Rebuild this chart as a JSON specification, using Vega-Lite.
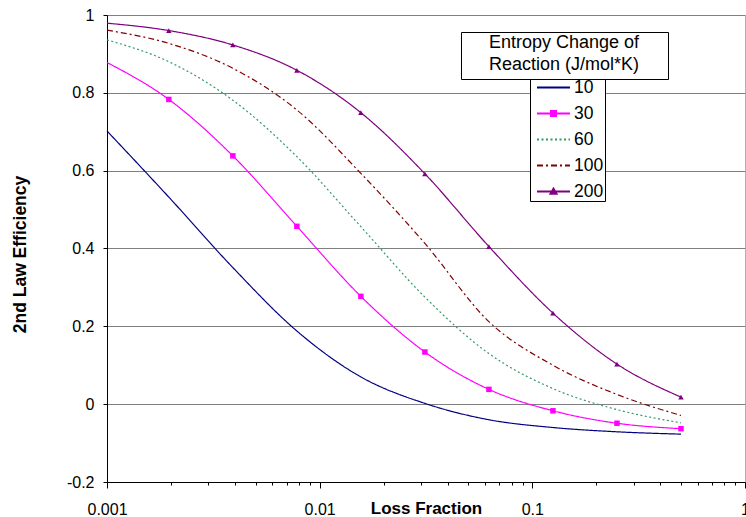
{
  "$schema": "https://vega.github.io/schema/vega-lite/v6.json",
  "width": 638,
  "height": 467,
  "autosize": {"type": "none"},
  "padding": {"left": 107, "top": 15, "right": 1, "bottom": 35},
  "background": "white",
  "config": {
    "font": "Liberation Sans",
    "view": {"stroke": "#b0b0b0", "strokeWidth": 1}
  },
  "data": {
    "values": [
      {"s": "10", "x": 0.001, "y": 0.702},
      {"s": "10", "x": 0.001953125, "y": 0.532},
      {"s": "10", "x": 0.00390625, "y": 0.351},
      {"s": "10", "x": 0.0078125, "y": 0.188},
      {"s": "10", "x": 0.015625, "y": 0.07},
      {"s": "10", "x": 0.03125, "y": 0.002},
      {"s": "10", "x": 0.0625, "y": -0.04},
      {"s": "10", "x": 0.125, "y": -0.06},
      {"s": "10", "x": 0.25, "y": -0.071},
      {"s": "10", "x": 0.5, "y": -0.077},
      {"s": "30", "x": 0.001, "y": 0.878},
      {"s": "30", "x": 0.001953125, "y": 0.783},
      {"s": "30", "x": 0.00390625, "y": 0.638},
      {"s": "30", "x": 0.0078125, "y": 0.457},
      {"s": "30", "x": 0.015625, "y": 0.277},
      {"s": "30", "x": 0.03125, "y": 0.134},
      {"s": "30", "x": 0.0625, "y": 0.038},
      {"s": "30", "x": 0.125, "y": -0.017},
      {"s": "30", "x": 0.25, "y": -0.049},
      {"s": "30", "x": 0.5, "y": -0.063},
      {"s": "60", "x": 0.001, "y": 0.936},
      {"s": "60", "x": 0.001953125, "y": 0.88},
      {"s": "60", "x": 0.00390625, "y": 0.781},
      {"s": "60", "x": 0.0078125, "y": 0.636},
      {"s": "60", "x": 0.015625, "y": 0.456},
      {"s": "60", "x": 0.03125, "y": 0.275},
      {"s": "60", "x": 0.0625, "y": 0.13},
      {"s": "60", "x": 0.125, "y": 0.04},
      {"s": "60", "x": 0.25, "y": -0.014},
      {"s": "60", "x": 0.5, "y": -0.048},
      {"s": "100", "x": 0.001, "y": 0.961},
      {"s": "100", "x": 0.001953125, "y": 0.927},
      {"s": "100", "x": 0.00390625, "y": 0.863},
      {"s": "100", "x": 0.0078125, "y": 0.756},
      {"s": "100", "x": 0.015625, "y": 0.593},
      {"s": "100", "x": 0.03125, "y": 0.413},
      {"s": "100", "x": 0.0625, "y": 0.212},
      {"s": "100", "x": 0.125, "y": 0.1},
      {"s": "100", "x": 0.25, "y": 0.025},
      {"s": "100", "x": 0.5, "y": -0.029},
      {"s": "200", "x": 0.001, "y": 0.979},
      {"s": "200", "x": 0.001953125, "y": 0.96},
      {"s": "200", "x": 0.00390625, "y": 0.923},
      {"s": "200", "x": 0.0078125, "y": 0.858},
      {"s": "200", "x": 0.015625, "y": 0.749},
      {"s": "200", "x": 0.03125, "y": 0.592},
      {"s": "200", "x": 0.0625, "y": 0.405},
      {"s": "200", "x": 0.125, "y": 0.234},
      {"s": "200", "x": 0.25, "y": 0.103},
      {"s": "200", "x": 0.5, "y": 0.018}
    ]
  },
  "encoding": {
    "x": {
      "field": "x",
      "type": "quantitative",
      "scale": {"type": "log", "domain": [0.001, 1]},
      "axis": {
        "values": [0.001, 0.002, 0.003, 0.004, 0.005, 0.006, 0.007, 0.008, 0.009,
                   0.01, 0.02, 0.03, 0.04, 0.05, 0.06, 0.07, 0.08, 0.09,
                   0.1, 0.2, 0.3, 0.4, 0.5, 0.6, 0.7, 0.8, 0.9, 1],
        "labelExpr": "indexof([0.001, 0.01, 0.1, 1], datum.value) >= 0 ? '' + datum.value : ''",
        "labelFontSize": 16,
        "labelColor": "black",
        "labelBaseline": "alphabetic",
        "labelPadding": 26,
        "labelFlush": false,
        "labelOverlap": false,
        "tickColor": "black",
        "tickSize": {"condition": {"test": "indexof([0.001, 0.01, 0.1, 1], datum.value) >= 0", "value": 6}, "value": 3},
        "domainColor": "black",
        "grid": false,
        "title": "Loss Fraction",
        "titleFontSize": 17,
        "titleFontWeight": "bold",
        "titleColor": "black",
        "titleBaseline": "alphabetic",
        "titleY": 31.5
      }
    },
    "y": {
      "field": "y",
      "type": "quantitative",
      "scale": {"domain": [-0.2, 1], "nice": false, "zero": false},
      "axis": {
        "values": [-0.2, 0, 0.2, 0.4, 0.6, 0.8, 1],
        "labelExpr": "'' + round(datum.value * 10) / 10",
        "labelFontSize": 16,
        "labelColor": "black",
        "labelPadding": 9,
        "tickSize": 4,
        "tickColor": "black",
        "domainColor": "black",
        "grid": true,
        "gridColor": "#808080",
        "gridWidth": 1,
        "title": "2nd Law Efficiency",
        "titleFontSize": 17.5,
        "titleFontWeight": "bold",
        "titleColor": "black",
        "titleAngle": -90,
        "titleAlign": "center",
        "titleBaseline": "middle",
        "titleX": -87,
        "titleY": 239
      }
    },
    "color": {
      "field": "s",
      "type": "nominal",
      "scale": {
        "domain": ["10", "30", "60", "100", "200"],
        "range": ["#000080", "#ff00ff", "#339966", "#800000", "#800080"]
      },
      "legend": {
        "orient": "none",
        "legendX": 423,
        "legendY": 54,
        "title": null,
        "labelFontSize": 17.5,
        "labelColor": "black",
        "fillColor": "white",
        "strokeColor": "black",
        "padding": 1,
        "symbolSize": 1089,
        "symbolStrokeWidth": 2,
        "symbolOffset": 5,
        "rowPadding": 0,
        "labelOffset": 3
      }
    }
  },
  "layer": [
    {
      "mark": {"type": "line", "interpolate": "monotone", "strokeWidth": 1.2},
      "encoding": {
        "strokeDash": {
          "field": "s",
          "type": "nominal",
          "scale": {
            "domain": ["10", "30", "60", "100", "200"],
            "range": [[1, 0], [1, 0], [2, 2.5], [6, 3, 2, 3], [1, 0]]
          },
          "legend": null
        }
      }
    },
    {
      "transform": [{"filter": "(datum.s == '30' || datum.s == '200') && datum.x > 0.0015"}],
      "mark": {"type": "point", "filled": true, "opacity": 1, "size": 30},
      "encoding": {
        "shape": {"condition": {"test": "datum.s == '30'", "value": "square"}, "value": "triangle-up"}
      }
    },
    {
      "transform": [{"filter": "datum.x < 0"}],
      "mark": {"type": "point", "filled": true, "opacity": 1},
      "encoding": {
        "shape": {
          "field": "s",
          "type": "nominal",
          "scale": {
            "domain": ["10", "30", "60", "100", "200"],
            "range": [
              "M-1,0H1",
              "M-1,0H1M-0.15,-0.15H0.15V0.15H-0.15Z",
              "M-1,0H1",
              "M-1,0H1",
              "M-1,0H1M0,-0.17L0.18,0.13H-0.18Z"
            ]
          }
        },
        "size": {
          "field": "s",
          "type": "ordinal",
          "scale": {"domain": ["10"], "range": [4, 4]},
          "legend": {
            "orient": "none",
            "legendX": 354,
            "legendY": 17,
            "title": ["Entropy Change of", "Reaction (J/mol*K)"],
            "titleFontSize": 18,
            "titleFontWeight": "normal",
            "titleColor": "black",
            "titleAnchor": "middle",
            "titleAlign": "center",
            "titleLineHeight": 22,
            "titlePadding": 0,
            "labelFontSize": 2,
            "labelColor": "transparent",
            "symbolOpacity": 0,
            "labelOffset": 196,
            "fillColor": "white",
            "strokeColor": "black",
            "padding": 2
          }
        }
      }
    }
  ]
}
